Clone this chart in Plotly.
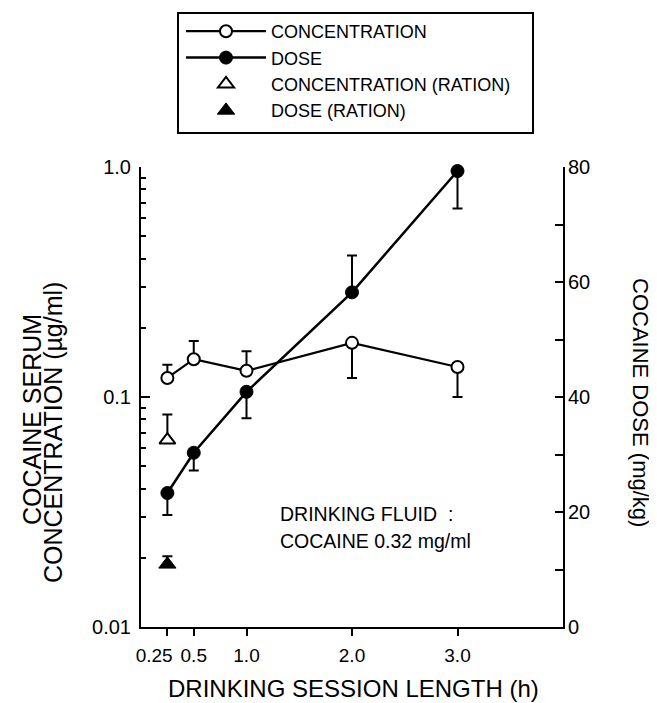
import plotly.graph_objects as go

# ---- data ----
session_h = [0.25, 0.5, 1.0, 2.0, 3.0]
conc = [0.121, 0.146, 0.130, 0.172, 0.135]
conc_err_plus = [0.017, 0.029, 0.028, 0.0, 0.0]
conc_err_minus = [0.0, 0.0, 0.0, 0.051, 0.035]
dose = [23.3, 30.3, 40.9, 58.2, 79.3]
dose_err_plus = [0.0, 0.0, 0.0, 6.4, 0.0]
dose_err_minus = [3.8, 3.1, 4.6, 0.0, 6.5]

ration_h = [0.25]
ration_conc = [0.065]
ration_conc_err = [0.019]
ration_dose = [10.9]
ration_dose_err = [1.4]

x_tickvals = [0.25, 0.5, 1.0, 2.0, 3.0]
x_ticktext = ["0.25\u00a0\u00a0\u00a0\u00a0\u00a0", "0.5", "1.0", "2.0", "3.0"]
y_tickvals = [0.01, 0.1, 1.0]
y_ticktext = ["0.01", "0.1", "1.0"]
y_minor = [0.02, 0.03, 0.04, 0.05, 0.06, 0.07, 0.08, 0.09,
           0.2, 0.3, 0.4, 0.5, 0.6, 0.7, 0.8, 0.9]
y2_tickvals = [0, 20, 40, 60, 80]
y2_minor = [10, 30, 50, 70]

FONT = "Liberation Sans, Arial, sans-serif"
BLACK = "black"

fig = go.Figure()

err_style = dict(type="data", symmetric=False, color=BLACK, thickness=2, width=5)

fig.add_trace(go.Scatter(
    x=session_h, y=conc, name="CONCENTRATION", mode="lines+markers",
    line=dict(color=BLACK, width=2.2),
    marker=dict(symbol="circle", size=12, color="white", line=dict(color=BLACK, width=2)),
    error_y=dict(array=conc_err_plus, arrayminus=conc_err_minus, **err_style),
    yaxis="y", cliponaxis=False,
))
fig.add_trace(go.Scatter(
    x=session_h, y=dose, name="DOSE", mode="lines+markers",
    line=dict(color=BLACK, width=2.5),
    marker=dict(symbol="circle", size=13, color=BLACK, line=dict(color=BLACK, width=1)),
    error_y=dict(array=dose_err_plus, arrayminus=dose_err_minus, **err_style),
    yaxis="y2", cliponaxis=False,
))
fig.add_trace(go.Scatter(
    x=ration_h, y=ration_conc, name="CONCENTRATION (RATION)", mode="markers",
    marker=dict(symbol="triangle-up", size=14, color="white", line=dict(color=BLACK, width=2)),
    error_y=dict(array=ration_conc_err, arrayminus=[0.0], **err_style),
    yaxis="y", cliponaxis=False,
))
fig.add_trace(go.Scatter(
    x=ration_h, y=ration_dose, name="DOSE (RATION)", mode="markers",
    marker=dict(symbol="triangle-up", size=15, color=BLACK, line=dict(color=BLACK, width=1)),
    error_y=dict(array=ration_dose_err, arrayminus=[0.0], **err_style),
    yaxis="y2", cliponaxis=False,
))

# page body has an 8px margin; lay out in screen pixels and compensate
OFF = 8
W, H = 657 - OFF, 703 - OFF
L, T = 141 - OFF, 167 - OFF
R, B = 657 - 563, 703 - 627
pw, ph = W - L - R, H - T - B

def px_x(px):
    return (px - OFF - L) / pw

def px_y(py):
    return (T + ph - (py - OFF)) / ph

fig.update_layout(
    width=W, height=H,
    margin=dict(l=L, r=R, t=T, b=B, pad=0, autoexpand=False),
    paper_bgcolor="white", plot_bgcolor="white",
    font=dict(family=FONT, color=BLACK, size=19),
    showlegend=True,
    legend=dict(
        x=px_x(181), y=px_y(13), xanchor="left", yanchor="top",
        xref="paper", yref="paper",
        font=dict(family=FONT, size=18, color=BLACK),
        bgcolor="rgba(0,0,0,0)", borderwidth=0,
        itemwidth=80, tracegroupgap=0,
    ),
    xaxis=dict(
        range=[0, 4], tickmode="array", tickvals=x_tickvals, ticktext=x_ticktext,
        tickangle=0,
        ticks="outside", ticklen=7, tickwidth=2, tickcolor=BLACK,
        showline=True, linewidth=2, linecolor=BLACK, showgrid=False, zeroline=False,
        tickfont=dict(family=FONT, size=19, color=BLACK),
        ticklabelstandoff=3,
    ),
    yaxis=dict(
        type="log", range=[-2, 0], tickmode="array", tickvals=y_tickvals, ticktext=y_ticktext,
        ticks="inside", ticklen=9, tickwidth=2, tickcolor=BLACK,
        minor=dict(tickmode="array", tickvals=y_minor, ticks="inside", ticklen=5,
                   tickwidth=2, tickcolor=BLACK, showgrid=False),
        showline=True, linewidth=2, linecolor=BLACK, showgrid=False, zeroline=False,
        tickfont=dict(family=FONT, size=20, color=BLACK),
        ticklabelstandoff=4,
    ),
    yaxis2=dict(
        overlaying="y", side="right", range=[0, 80], tickmode="array", tickvals=y2_tickvals,
        ticks="inside", ticklen=8, tickwidth=2, tickcolor=BLACK,
        minor=dict(tickmode="array", tickvals=y2_minor, ticks="inside", ticklen=8,
                   tickwidth=2, tickcolor=BLACK, showgrid=False),
        showline=True, linewidth=2, linecolor=BLACK, showgrid=False, zeroline=False,
        tickfont=dict(family=FONT, size=20, color=BLACK),
        ticklabelstandoff=-1,
    ),
)

# legend frame
fig.add_shape(type="rect", xref="paper", yref="paper",
              x0=px_x(178), x1=px_x(533), y0=px_y(133), y1=px_y(13),
              line=dict(color=BLACK, width=2), fillcolor="rgba(0,0,0,0)", layer="above")

ann = []
# axis titles
ann.append(dict(text="DRINKING SESSION LENGTH (h)", x=px_x(353), y=px_y(688),
                xref="paper", yref="paper", showarrow=False, xanchor="center", yanchor="middle",
                font=dict(family=FONT, size=24, color=BLACK)))
ann.append(dict(text="COCAINE SERUM", x=px_x(32), y=px_y(420), textangle=-90,
                xref="paper", yref="paper", showarrow=False, xanchor="center", yanchor="middle",
                font=dict(family=FONT, size=25, color=BLACK)))
ann.append(dict(text="CONCENTRATION (µg/ml)", x=px_x(53), y=px_y(433), textangle=-90,
                xref="paper", yref="paper", showarrow=False, xanchor="center", yanchor="middle",
                font=dict(family=FONT, size=25, color=BLACK)))
ann.append(dict(text="COCAINE DOSE (mg/kg)", x=px_x(641), y=px_y(402), textangle=90,
                xref="paper", yref="paper", showarrow=False, xanchor="center", yanchor="middle",
                font=dict(family=FONT, size=22, color=BLACK)))
# in-plot note
ann.append(dict(text="DRINKING FLUID  :", x=px_x(278), y=px_y(514),
                xref="paper", yref="paper", showarrow=False, xanchor="left", yanchor="middle",
                font=dict(family=FONT, size=19.5, color=BLACK)))
ann.append(dict(text="COCAINE 0.32 mg/ml", x=px_x(278), y=px_y(541),
                xref="paper", yref="paper", showarrow=False, xanchor="left", yanchor="middle",
                font=dict(family=FONT, size=19.5, color=BLACK)))
fig.update_layout(annotations=ann)

fig.write_html("out.html")
